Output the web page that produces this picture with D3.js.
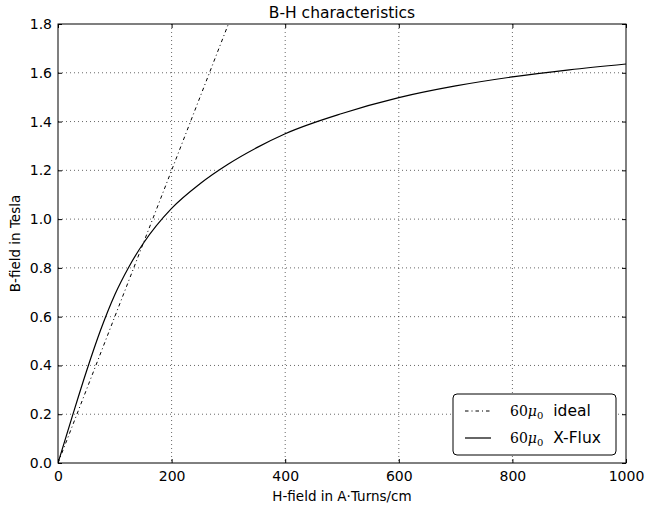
<!DOCTYPE html>
<html>
<head>
<meta charset="utf-8">
<script src="https://cdn.jsdelivr.net/npm/d3@7"></script>
<style>
  body { margin: 0; background: #fff; }
  svg { font-family: "DejaVu Sans", sans-serif; }
</style>
</head>
<body>
<div id="chart"></div>
<script>
// ideal line: 60 mu0, straight
const idealH = [0, 300];
const idealB = [0, 1.8];
// X-Flux curve
const fluxH = [0, 25, 50, 75, 100, 125, 150, 200, 250, 300, 350, 400, 500, 600, 700, 800, 900, 1000];
const fluxB = [0, 0.19, 0.375, 0.545, 0.69, 0.805, 0.9, 1.044, 1.145, 1.226, 1.293, 1.35, 1.433, 1.498, 1.546, 1.583, 1.612, 1.636];
const xTicks = [0, 200, 400, 600, 800, 1000];
const yTicks = [0, 0.2, 0.4, 0.6, 0.8, 1.0, 1.2, 1.4, 1.6, 1.8];

const W = 646, H = 509;
const m = { l: 58, r: 20, t: 24, b: 46 };
const pw = W - m.l - m.r, ph = H - m.t - m.b;

const svg = d3.select('#chart').append('svg').attr('width', W).attr('height', H);
const g = svg.append('g').attr('transform', `translate(${m.l},${m.t})`);

const x = d3.scaleLinear().domain([0, 1000]).range([0, pw]);
const y = d3.scaleLinear().domain([0, 1.8]).range([ph, 0]);

g.append('defs').append('clipPath').attr('id', 'clip')
  .append('rect').attr('width', pw).attr('height', ph);

// grid
xTicks.slice(1, -1).forEach(v => {
  g.append('line').attr('x1', x(v)).attr('x2', x(v)).attr('y1', 0).attr('y2', ph)
    .attr('stroke', '#000').attr('stroke-width', 0.6).attr('stroke-dasharray', '1,3');
});
yTicks.slice(1, -1).forEach(v => {
  g.append('line').attr('y1', y(v)).attr('y2', y(v)).attr('x1', 0).attr('x2', pw)
    .attr('stroke', '#000').attr('stroke-width', 0.6).attr('stroke-dasharray', '1,3');
});

// lines
const line = d3.line().x(d => x(d[0])).y(d => y(d[1]));
const lineC = d3.line().x(d => x(d[0])).y(d => y(d[1])).curve(d3.curveMonotoneX);
g.append('path').datum(idealH.map((h, i) => [h, idealB[i]]))
  .attr('d', line).attr('fill', 'none').attr('stroke', '#000').attr('stroke-width', 1)
  .attr('stroke-dasharray', '3.5,3,1,3').attr('clip-path', 'url(#clip)');
g.append('path').datum(fluxH.map((h, i) => [h, fluxB[i]]))
  .attr('d', lineC).attr('fill', 'none').attr('stroke', '#000').attr('stroke-width', 1.2)
  .attr('clip-path', 'url(#clip)');

// axes (ticks inside, on all four sides)
const fmtY = d3.format('.1f');
g.append('g').attr('transform', `translate(0,${ph})`)
  .call(d3.axisBottom(x).tickValues(xTicks).tickFormat(d3.format('d'))
    .tickSizeInner(-4).tickSizeOuter(0).tickPadding(8));
g.append('g').call(d3.axisTop(x).tickValues(xTicks).tickSizeInner(-4).tickSizeOuter(0).tickFormat(''));
g.append('g')
  .call(d3.axisLeft(y).tickValues(yTicks).tickFormat(fmtY).tickSizeInner(-4).tickSizeOuter(0).tickPadding(6));
g.append('g').attr('transform', `translate(${pw},0)`)
  .call(d3.axisRight(y).tickValues(yTicks).tickSizeInner(-4).tickSizeOuter(0).tickFormat(''));
g.selectAll('.domain').remove();
g.selectAll('.tick text').attr('font-size', 14).attr('fill', '#000')
  .attr('font-family', '"DejaVu Sans", sans-serif');
g.selectAll('.tick line').attr('stroke', '#000');

g.append('rect').attr('width', pw).attr('height', ph)
  .attr('fill', 'none').attr('stroke', '#000').attr('stroke-width', 1);

// title and labels
svg.append('text').attr('x', m.l + pw / 2).attr('y', 18).attr('text-anchor', 'middle')
  .attr('font-size', 15.5).text('B-H characteristics');
svg.append('text').attr('x', m.l + pw / 2).attr('y', 501).attr('text-anchor', 'middle')
  .attr('font-size', 13.5).text('H-field in A\u00b7Turns/cm');
svg.append('text').attr('transform', `translate(20,${m.t + ph / 2}) rotate(-90)`)
  .attr('text-anchor', 'middle').attr('font-size', 13.5).text('B-field in Tesla');

// legend
const lg = g.append('g').attr('transform', `translate(${453 - m.l},${394 - m.t})`);
lg.append('rect').attr('width', 163).attr('height', 61).attr('rx', 4)
  .attr('fill', '#fff').attr('stroke', '#000').attr('stroke-width', 1);
[['ideal', '3.5,3,1,3'], ['X-Flux', null]].forEach(([lbl, dash], i) => {
  const ly = 17 + i * 27;
  const ln = lg.append('line').attr('x1', 12).attr('x2', 38).attr('y1', ly).attr('y2', ly)
    .attr('stroke', '#000').attr('stroke-width', 1.2);
  if (dash) ln.attr('stroke-dasharray', dash).attr('stroke-width', 1);
  const t = lg.append('text').attr('x', 57).attr('y', ly + 5).attr('font-size', 15.5);
  t.append('tspan').attr('font-family', '"DejaVu Serif", serif').attr('font-size', 14).text('60');
  t.append('tspan').attr('font-family', '"DejaVu Serif", serif').attr('font-style', 'italic')
    .attr('font-size', 14).text('\u03bc');
  t.append('tspan').attr('font-family', '"DejaVu Serif", serif').attr('font-size', 10)
    .attr('dy', 3).text('0');
  t.append('tspan').attr('dy', -3).attr('dx', 5).text(' ' + lbl);
});
</script>
</body>
</html>
